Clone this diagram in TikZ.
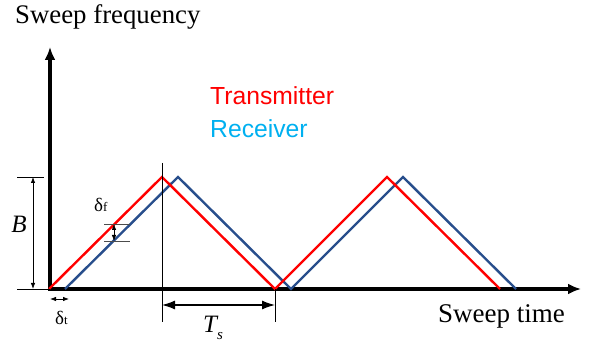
\documentclass[tikz,border=0pt]{standalone}
\usepackage{fontspec}
\setmainfont{Liberation Serif}
\newfontfamily\legendfont{Liberation Sans}
\usetikzlibrary{positioning,arrows.meta,calc}
\definecolor{txred}{RGB}{255,0,0}
\definecolor{rxblue}{RGB}{40,78,140}
\definecolor{rxlabel}{RGB}{0,176,240}

\begin{document}
\begin{tikzpicture}[x=1pt,y=-1pt,>=Latex]
\tikzstyle{axis}=[line width=3.5pt,-{Latex[length=13pt,width=11pt]}]
\tikzstyle{sweep}=[line width=2.4pt,line join=miter]
\tikzstyle{guide}=[line width=0.8pt]
\tikzstyle{dim}=[line width=0.8pt,{Latex[length=6pt,width=4.5pt]}-{Latex[length=6pt,width=4.5pt]}]
\tikzstyle{period}=[line width=1.2pt,{Latex[length=13pt,width=9pt]}-{Latex[length=13pt,width=9pt]}]
\useasboundingbox (0,0) rectangle (589,347);

% axes
\coordinate (origin) at (50,289);
\coordinate (ftop) at (50,47);
\coordinate (tend) at (581,289);
\draw[axis] ($(origin)+(0,2)$) -- (ftop);
\draw[axis] ($(origin)+(-2,0)$) -- (tend);
\node[font=\fontsize{26.8}{30}\selectfont,anchor=base west,inner sep=0pt] (ylabel) at (15,24) {Sweep frequency};
\node[font=\fontsize{27}{30}\selectfont,anchor=base west,inner sep=0pt] (xlabel) at (438,323) {Sweep time};

% transmitter and receiver sweeps
\coordinate (tx0) at (49,289);
\coordinate (txpeak1) at (162,177);
\coordinate (txlow) at (275,289);
\coordinate (txpeak2) at (387,177);
\coordinate (txend) at (500,289);
\coordinate (rx0) at (65,289);
\coordinate (rxpeak1) at (178,177);
\coordinate (rxlow) at (291,289);
\coordinate (rxpeak2) at (403,177);
\coordinate (rxend) at (516,289);
\draw[sweep,rxblue] (rx0) -- (rxpeak1) -- (rxlow) -- (rxpeak2) -- (rxend);
\draw[sweep,txred] (tx0) -- (txpeak1) -- (txlow) -- (txpeak2) -- (txend);

\node[font=\legendfont\fontsize{24.7}{27}\selectfont,text=txred,anchor=base west,inner sep=0pt] (txlabel) at (210,105) {Transmitter};
\node[font=\legendfont\fontsize{24.7}{27}\selectfont,text=rxlabel,anchor=base west,inner sep=0pt] (rxlabeltext) at (210,138) {Receiver};

% bandwidth B
\coordinate (btop) at (17,177);
\coordinate (bbot) at (17,289);
\draw[guide] (btop) -- (44,177);
\draw[guide] (bbot) -- (origin);
\draw[dim] (33,177) -- (33,289);
\node[font=\fontsize{25}{28}\selectfont\itshape,anchor=base,inner sep=0pt] (blabel) at (19,233) {B};

% frequency offset
\coordinate (dfup) at (104,224);
\coordinate (dfdown) at (104,241);
\draw[guide,black!70] (dfup) -- ++(26,0);
\draw[guide,black!70] (dfdown) -- ++(26,0);
\draw[dim] (114,224) -- (114,241);
\node[font=\fontsize{19}{21}\selectfont,anchor=base west,inner sep=0pt] (dflabel) at (94,212) {δ\fontsize{13}{14}\selectfont f};

% time offset
\draw[dim] (50,299) -- (69,299);
\node[font=\fontsize{19}{21}\selectfont,anchor=base west,inner sep=0pt] (dtlabel) at (55,324) {δ\fontsize{13}{14}\selectfont t};

% sweep period
\draw[guide] (162,163) -- (162,322);
\draw[guide] (txlow) -- (275,322);
\draw[period] (162,305) -- (275,305);
\node[font=\fontsize{25}{28}\selectfont\itshape,anchor=base west,inner sep=0pt] (tslabel) at (203,333) {T\raisebox{-6pt}{\fontsize{15}{16}\selectfont s}};
\end{tikzpicture}
\end{document}
